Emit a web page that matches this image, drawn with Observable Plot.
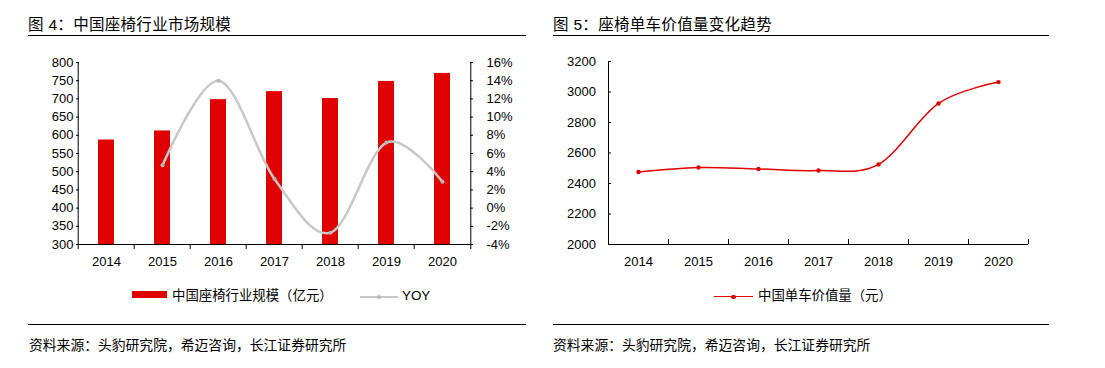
<!DOCTYPE html>
<html><head><meta charset="utf-8">
<script src="https://cdn.jsdelivr.net/npm/d3@7"></script>
<script src="https://cdn.jsdelivr.net/npm/@observablehq/plot@0.6"></script>
<style>
body{margin:0;width:1105px;height:368px;position:relative;background:#fff;font-family:"Liberation Sans",Arial,"Noto Sans CJK SC",sans-serif;color:#000;overflow:hidden}
.abs{position:absolute;white-space:nowrap}
.title{font-size:15.5px;line-height:16px;letter-spacing:0.3px}
.hr{position:absolute;height:0;border-top:1.6px solid #000}
.src{font-size:13.8px;line-height:14px}
.leg{font-size:13.4px;line-height:14px}
svg{overflow:visible}
</style></head><body>
<div class="abs title" style="left:28px;top:17px">图 4：中国座椅行业市场规模</div>
<div class="hr" style="left:28px;top:35px;width:498px"></div>
<div class="abs title" style="left:553px;top:17px">图 5：座椅单车价值量变化趋势</div>
<div class="hr" style="left:553px;top:35px;width:496px"></div>

<div id="c1" class="abs" style="left:0;top:0"></div>
<div id="c2" class="abs" style="left:545px;top:0"></div>

<div class="abs" style="left:132px;top:291px;width:35px;height:7px;background:#E00000"></div>
<div class="abs leg" style="left:172px;top:289px">中国座椅行业规模（亿元）</div>
<div class="abs" style="left:360px;top:295.5px;width:38px;height:0;border-top:2.5px solid #C8C8C8"></div>
<div class="abs" style="left:377px;top:294.5px;width:4px;height:4px;border-radius:2px;background:#B8B8B8"></div>
<div class="abs leg" style="left:402px;top:289px">YOY</div>

<div class="abs" style="left:714px;top:296px;width:39px;height:0;border-top:1.5px solid #E00000"></div>
<div class="abs" style="left:731px;top:294.5px;width:4.5px;height:4.5px;border-radius:2.5px;background:#E00000"></div>
<div class="abs leg" style="left:758px;top:289px">中国单车价值量（元）</div>

<div class="hr" style="left:28px;top:324px;width:498px"></div>
<div class="hr" style="left:553px;top:324px;width:496px"></div>
<div class="abs src" style="left:29px;top:339px">资料来源：头豹研究院，希迈咨询，长江证券研究所</div>
<div class="abs src" style="left:553px;top:339px">资料来源：头豹研究院，希迈咨询，长江证券研究所</div>

<script>
const years = ["2014", "2015", "2016", "2017", "2018", "2019", "2020"];
const marketSize = [587, 612, 698, 720, 701, 748, 770];
const yoy = [null, 4.7, 14.0, 3.2, -2.7, 7.2, 2.9];
const unitValue = [2475, 2505, 2495, 2485, 2525, 2925, 3065];
const sizeTicks = [300, 350, 400, 450, 500, 550, 600, 650, 700, 750, 800];
const yoyTicks = [-4, -2, 0, 2, 4, 6, 8, 10, 12, 14, 16];
const unitTicks = [2000, 2200, 2400, 2600, 2800, 3000, 3200];

const font = '"Liberation Sans", Arial, "Noto Sans CJK SC", sans-serif';

// ---------- Chart 1 ----------
{
  const W = 540, H = 280;
  const mL = 76, mR = W - 472, mT = 62, mB = H - 244;
  const step = (W - mL - mR) / years.length;
  // secondary axis mapping: yoy [-4,16] -> y [300,800]
  const toY = v => 300 + (v - yoyTicks[0]) * (800 - 300) / (yoyTicks[yoyTicks.length - 1] - yoyTicks[0]);
  const table = years.map((year, i) => ({year, size: marketSize[i], yoy: yoy[i]}));
  const yoyData = table.filter(d => d.yoy != null);
  const chart = Plot.plot({
    width: W, height: H, marginLeft: mL, marginRight: mR, marginTop: mT, marginBottom: mB,
    style: {fontFamily: font, fontSize: "13px", color: "#000", background: "transparent"},
    x: {domain: years, paddingInner: 0.72, paddingOuter: 0.36, label: null},
    y: {domain: [300, 800], label: null},
    marks: [
      Plot.barY(table, {x: "year", y1: 300, y2: "size", fill: "#E00000"}),
      Plot.line(yoyData, {x: "year", y: d => toY(d.yoy), stroke: "#C8C8C8", strokeWidth: 2.5, curve: "cardinal"}),
      Plot.dot(yoyData, {x: "year", y: d => toY(d.yoy), r: 2, fill: "#B8B8B8"}),
      Plot.axisY(sizeTicks, {anchor: "left", tickSize: -3, tickPadding: 6, label: null, tickFormat: d => String(d)}),
      Plot.axisY(yoyTicks.map(toY), {anchor: "right", tickSize: -3, tickPadding: 17, label: null,
        tickFormat: d => `${Math.round((d - 300) * 20 / 500 - 4)}%`}),
      Plot.axisX({tickSize: 0, tickPadding: 12, label: null}),
      Plot.ruleY([300], {stroke: "#000"}),
      Plot.ruleX([years[0]], {x: d => d, dx: -step / 2, y1: 300, y2: 800, stroke: "#000"}),
      Plot.ruleX([years[years.length - 1]], {x: d => d, dx: step / 2, y1: 300, y2: 800, stroke: "#000"}),
      Plot.ruleX(years, {x: d => d, dx: -step / 2, y1: 300, y2: 300, insetBottom: -5, stroke: "#000"}),
      Plot.ruleX([years[years.length - 1]], {x: d => d, dx: step / 2, y1: 300, y2: 300, insetBottom: -5, stroke: "#000"})
    ]
  });
  document.getElementById("c1").append(chart);
}

// ---------- Chart 2 ----------
{
  const W = 560, H = 280;
  const mL = 608 - 545, mR = 1105 - 1028, mT = 61, mB = H - 244;
  const step = (W - mL - mR) / years.length;
  const table = years.map((year, i) => ({year, value: unitValue[i]}));
  const chart = Plot.plot({
    width: W, height: H, marginLeft: mL, marginRight: mR, marginTop: mT, marginBottom: mB,
    style: {fontFamily: font, fontSize: "13px", color: "#000", background: "transparent"},
    x: {domain: years, paddingInner: 0.72, paddingOuter: 0.36, label: null},
    y: {domain: [2000, 3200], label: null},
    marks: [
      Plot.line(table, {x: "year", y: "value", stroke: "#E00000", strokeWidth: 1.5, curve: "cardinal"}),
      Plot.dot(table, {x: "year", y: "value", r: 2.2, fill: "#E00000"}),
      Plot.axisY(unitTicks, {anchor: "left", tickSize: -3, tickPadding: 15.5, label: null, tickFormat: d => String(d)}),
      Plot.axisX({tickSize: 0, tickPadding: 12, label: null}),
      Plot.ruleY([2000], {stroke: "#000"}),
      Plot.ruleX([years[0]], {x: d => d, dx: -step / 2, y1: 2000, y2: 3200, stroke: "#000"}),
      Plot.ruleX(years, {x: d => d, dx: step / 2, y1: 2000, y2: 2000, insetTop: -5, stroke: "#000"})
    ]
  });
  document.getElementById("c2").append(chart);
}
</script>
</body></html>
